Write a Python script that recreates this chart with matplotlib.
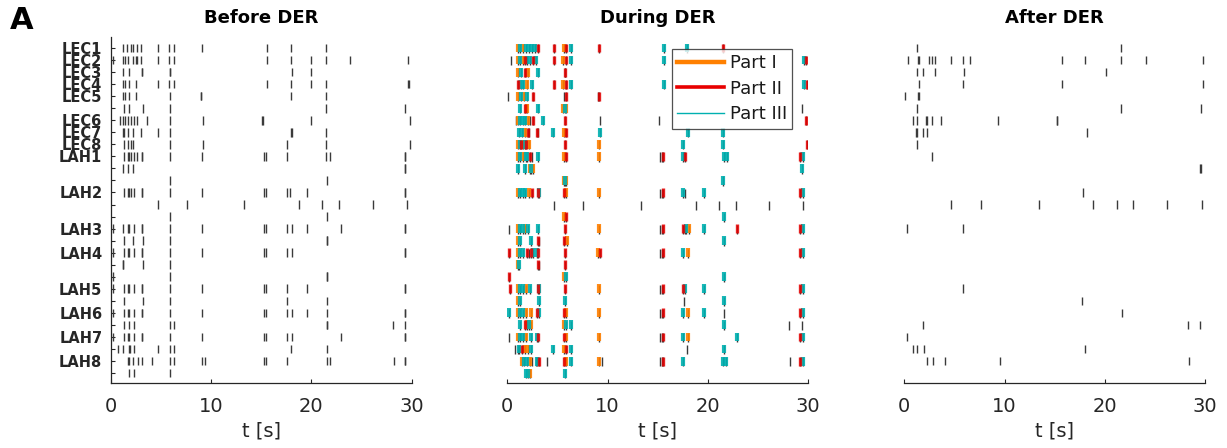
import numpy as np
import matplotlib.pyplot as plt
from matplotlib.lines import Line2D

# Channel labels (top to bottom); unlabeled rows are extra contacts
channels = ["LEC1", "LEC2", "LEC3", "LEC4", "LEC5", "", "LEC6", "LEC7", "LEC8", "LAH1",
            "", "", "LAH2", "", "", "LAH3", "", "LAH4", "", "", "LAH5", "", "LAH6", "",
            "LAH7", "", "LAH8", ""]

# Spike times [s], one list per row
before = [
    [1.27, 1.6, 2.0, 2.27, 2.6, 3.0, 4.67, 5.77, 6.33, 9.1, 15.6, 17.93, 21.43],
    [0.27, 1.27, 1.45, 1.77, 2.27, 2.5, 2.65, 3.0, 4.67, 5.77, 6.33, 15.6, 17.93, 19.93, 21.43, 23.87, 29.6],
    [1.27, 1.87, 3.1, 3.15, 5.87, 5.92, 18.1, 19.93],
    [1.27, 1.43, 1.87, 2.53, 4.67, 5.77, 6.33, 15.6, 17.93, 19.93, 21.43, 29.6, 29.77],
    [1.27, 1.43, 1.87, 2.53, 5.87, 9.0, 9.05, 17.93, 21.43],
    [1.33, 1.87, 3.2, 5.87, 21.43, 29.37],
    [0.93, 1.2, 1.43, 1.77, 2.0, 2.33, 2.67, 3.6, 5.87, 9.2, 15.1, 15.15, 19.93, 29.87],
    [1.2, 1.33, 1.77, 2.2, 3.0, 4.67, 5.87, 18.0, 18.05, 21.43],
    [1.33, 1.77, 2.0, 2.27, 5.87, 9.2, 17.6, 21.43, 29.87],
    [1.33, 1.77, 1.82, 2.0, 2.33, 2.67, 3.1, 3.15, 5.87, 9.1, 15.27, 15.53, 17.6, 21.43, 21.87, 29.33, 29.38],
    [1.2, 1.77, 2.27, 29.33, 29.38],
    [5.87, 21.53],
    [1.33, 1.77, 1.82, 2.0, 2.33, 3.1, 3.15, 5.87, 9.1, 15.27, 15.53, 17.6, 17.87, 19.6, 29.33, 29.38],
    [4.67, 7.6, 13.27, 18.77, 21.1, 22.77, 26.1, 29.53],
    [5.87, 21.53],
    [0.27, 1.27, 1.77, 1.82, 2.33, 3.1, 3.15, 5.87, 9.1, 15.27, 15.53, 17.6, 18.1, 19.6, 22.93, 29.33, 29.38],
    [1.33, 2.27, 3.2, 5.87, 21.53, 21.58],
    [0.27, 1.33, 1.77, 1.82, 2.33, 3.1, 3.15, 5.87, 9.1, 15.27, 15.53, 17.6, 18.1, 29.33, 29.38],
    [1.2, 1.25, 3.2, 5.87],
    [0.27, 5.87, 21.53, 21.58],
    [0.27, 1.33, 1.77, 1.82, 2.33, 3.1, 3.15, 5.87, 9.1, 15.27, 15.53, 17.6, 19.6, 29.33, 29.38],
    [1.33, 3.2, 5.87, 17.6, 21.53],
    [0.27, 1.33, 1.77, 1.82, 2.33, 3.1, 3.15, 5.87, 9.1, 15.27, 15.53, 17.6, 18.1, 19.6, 21.53, 29.33, 29.38],
    [1.33, 1.87, 2.33, 5.87, 6.33, 21.53, 21.58, 28.1, 29.33],
    [0.27, 1.33, 1.77, 1.82, 2.33, 3.1, 3.15, 5.87, 9.1, 15.27, 15.53, 17.6, 18.1, 22.93, 29.33, 29.38],
    [0.77, 1.2, 1.87, 1.92, 2.33, 4.67, 5.87, 6.33, 17.93, 21.53],
    [1.77, 1.82, 2.2, 2.77, 3.1, 4.1, 5.87, 6.33, 9.1, 9.43, 15.27, 15.53, 17.6, 21.53, 21.87, 28.2, 29.33, 29.38],
    [1.87, 2.33, 5.87],
]

after = [
    [1.3, 21.57],
    [0.4, 1.4, 1.45, 2.5, 2.73, 3.07, 4.67, 5.83, 6.57, 15.73, 17.97, 21.57, 24.07, 29.73],
    [1.3, 1.83, 3.07, 5.97, 20.07],
    [1.5, 5.83, 15.73, 29.73],
    [0.05, 1.4, 1.45],
    [1.3, 21.57, 29.57],
    [0.9, 1.23, 2.2, 2.25, 2.73, 3.63, 9.33, 15.2, 15.25],
    [1.2, 1.25, 1.83, 2.23, 18.23],
    [1.3],
    [2.73],
    [29.48, 29.53],
    [],
    [17.83],
    [4.67, 7.63, 13.43, 18.8, 21.23, 22.83, 26.23, 29.63],
    [],
    [0.23, 5.83],
    [], [], [], [],
    [5.83],
    [17.73],
    [21.73],
    [1.83, 28.23, 29.5],
    [0.23],
    [0.83, 1.3, 2.0, 17.97],
    [2.23, 2.83, 4.07, 9.57, 28.33],
    [],
]

# During DER: spikes per stimulation part, plus spikes not assigned to a part
during_p1 = [
    [1.05, 1.6, 5.65], [1.05, 1.6, 5.6], [1.05, 2.05], [2.0, 5.6], [1.05, 1.7],
    [2.0, 5.6, 5.9], [1.05, 2.1], [1.8, 5.65], [1.05, 1.6, 2.2, 9.1], [1.05, 1.6, 5.65, 9.1],
    [2.25, 2.55], [5.65, 5.85], [1.05, 2.2, 5.85, 9.1], [], [5.7],
    [1.05, 1.75, 9.1, 18.1], [1.05, 5.95], [1.05, 9.05, 18.05], [1.05], [5.7],
    [1.05, 1.9, 9.1], [1.05], [1.05, 1.9, 2.4, 5.9, 9.1, 18.0], [2.0, 2.4, 5.65],
    [1.05, 1.9, 5.9, 9.1, 18.05], [1.8, 2.05, 5.7], [1.5, 2.3, 5.85, 9.1], [2.3],
]
during_p2 = [
    [3.05, 4.65, 5.85, 9.1, 21.5], [1.75, 2.6, 4.65, 5.85, 29.8], [1.75, 5.75],
    [1.1, 4.65, 5.85, 29.85], [2.6, 5.85, 9.15], [1.75], [2.6, 5.75, 29.8],
    [2.05, 3.0, 5.85], [1.4, 1.9, 5.75, 29.85], [2.25, 5.9, 15.5, 17.7, 29.2],
    [], [], [2.45, 3.05, 5.7, 15.55, 29.2], [], [5.85],
    [5.75, 15.55, 17.55, 22.9, 29.2], [3.05, 5.7], [0.2, 1.95, 2.35, 3.1, 5.75, 9.2, 15.55, 29.2],
    [3.05, 5.8], [0.2], [0.25, 3.05, 5.8, 15.55, 17.5, 29.2], [], [3.0, 5.7, 15.55, 29.2],
    [1.75], [3.1, 5.7, 15.55, 29.2], [1.45, 5.85], [3.2, 5.7, 15.55, 29.2], [],
]
during_p3 = [
    [1.3, 1.9, 2.2, 2.5, 2.75, 6.4, 15.6, 17.9], [1.3, 2.0, 2.3, 2.9, 6.4, 15.6, 29.6],
    [1.35, 3.1], [1.4, 1.6, 2.5, 6.35, 15.6, 29.6], [1.35, 2.0], [1.3, 3.1, 5.75],
    [1.3, 1.55, 1.8, 3.55], [1.2, 1.5, 4.6, 9.2, 18.0, 21.5], [1.25, 1.75, 17.5, 21.5],
    [1.3, 1.85, 2.0, 3.1, 17.5, 21.6, 21.9, 29.45], [1.1, 1.8, 2.4, 29.4], [5.75, 21.5],
    [1.3, 1.55, 1.8, 3.15, 17.55, 19.6, 29.45], [], [21.6],
    [1.3, 1.55, 2.1, 3.1, 17.8, 19.6, 29.45], [1.3, 2.35, 21.6],
    [1.3, 1.55, 2.55, 2.95, 17.5, 29.45], [1.2], [5.85, 21.6],
    [1.3, 1.55, 2.3, 3.15, 17.75, 19.6, 29.45], [1.25, 3.2, 5.8, 21.6],
    [0.2, 1.3, 1.55, 3.15, 17.5, 19.6, 29.45], [1.25, 2.2, 5.85, 6.4, 21.6],
    [1.3, 1.55, 2.4, 2.95, 17.5, 22.9, 29.45], [1.2, 2.35, 4.6, 6.35, 21.6],
    [1.7, 2.0, 3.0, 6.4, 17.55, 21.55, 21.85, 29.45], [1.85, 2.1, 5.8],
]
during_other = [
    [], [0.33], [5.8], [], [0.05, 5.7, 9.0], [29.4], [0.85, 2.3, 9.25, 15.1], [2.2, 3.1],
    [], [2.5, 15.25, 15.4], [], [], [15.25, 15.4, 17.7],
    [4.67, 7.6, 13.3, 18.8, 21.1, 22.8, 26.1, 29.5], [],
    [0.2, 15.25, 15.4, 17.7], [3.15], [2.2, 15.25, 15.4], [3.15], [], [15.25, 15.4],
    [17.6], [15.25, 15.4, 21.6], [28.1, 29.4], [0.2, 15.25, 15.4], [0.75, 1.05, 17.9],
    [2.5, 2.85, 4.0, 9.4, 15.25, 15.4, 28.2], [],
]

c_orange = "#FF8000"
c_red = "#E80000"
c_teal = "#00B0B0"
c_spike = "#3a3a3a"
c_axis = "#262626"

plt.rcParams["font.family"] = ["DejaVu Sans"]

rows = np.arange(1, len(channels) + 1)
fig = plt.figure(figsize=(12.27, 4.48), dpi=100)
lefts = [0.0902, 0.4134, 0.737]
axes = [fig.add_axes([l, 0.1451, 0.2453, 0.7723]) for l in lefts]
titles = ["Before DER", "During DER", "After DER"]

for ax, title in zip(axes, titles):
    ax.set_xlim(0, 30)
    ax.set_ylim(28.82, 0.09)
    ax.set_xticks([0, 10, 20, 30])
    ax.tick_params(axis="x", direction="in", length=3, pad=10, labelsize=14,
                   colors=c_axis, width=0.8)
    ax.set_xlabel("t [s]", fontsize=14, color=c_axis, labelpad=4)
    ax.set_title(title, fontsize=13, fontweight="bold", pad=10)
    for s in ["top", "right", "left"]:
        ax.spines[s].set_visible(False)
    ax.spines["bottom"].set_color(c_axis)
    ax.spines["bottom"].set_linewidth(0.9)
    ax.set_yticks([])

# Before
ax = axes[0]
ax.eventplot(before, lineoffsets=rows, linelengths=0.72, colors=c_spike, linewidths=1.0)
ax.spines["left"].set_visible(True)
ax.spines["left"].set_color(c_axis)
ax.spines["left"].set_linewidth(0.9)
ax.set_yticks(rows)
ax.set_yticklabels(channels, fontsize=10.5, fontweight="bold")
ax.tick_params(axis="y", direction="in", length=3, pad=6, colors=c_axis, width=0.8)

# During
ax = axes[1]
all_during = [sorted(a + b + c + d) for a, b, c, d in zip(during_p1, during_p2, during_p3, during_other)]
ax.eventplot(all_during, lineoffsets=rows + 0.05, linelengths=0.76, colors=c_spike, linewidths=1.0, zorder=1)
ax.eventplot(during_p1, lineoffsets=rows, linelengths=0.74, colors=c_orange, linewidths=3.0, alpha=0.9, zorder=2)
ax.eventplot(during_p3, lineoffsets=rows, linelengths=0.74, colors=c_teal, linewidths=3.0, alpha=0.9, zorder=3)
ax.eventplot(during_p2, lineoffsets=rows, linelengths=0.74, colors=c_red, linewidths=2.4, alpha=0.85, zorder=4)
handles = [Line2D([], [], color=c_orange, lw=3.2),
           Line2D([], [], color=c_red, lw=2.6),
           Line2D([], [], color=c_teal, lw=1.0)]
leg = ax.legend(handles, ["Part I", "Part II", "Part III"], loc="upper left",
                bbox_to_anchor=(0.547, 0.966), fontsize=13, frameon=True, fancybox=False,
                handlelength=2.6, labelspacing=0.42, borderpad=0.3, handletextpad=0.3,
                borderaxespad=0)
leg.get_frame().set_edgecolor(c_axis)
leg.get_frame().set_linewidth(0.9)
leg.set_zorder(10)
for t in leg.get_texts():
    t.set_color("#1a1a1a")

# After
ax = axes[2]
ax.eventplot(after, lineoffsets=rows, linelengths=0.72, colors=c_spike, linewidths=1.0)

fig.text(0.008, 0.955, "A", fontsize=22, fontweight="bold", va="center", ha="left")

fig.savefig("out.png", dpi=100)
